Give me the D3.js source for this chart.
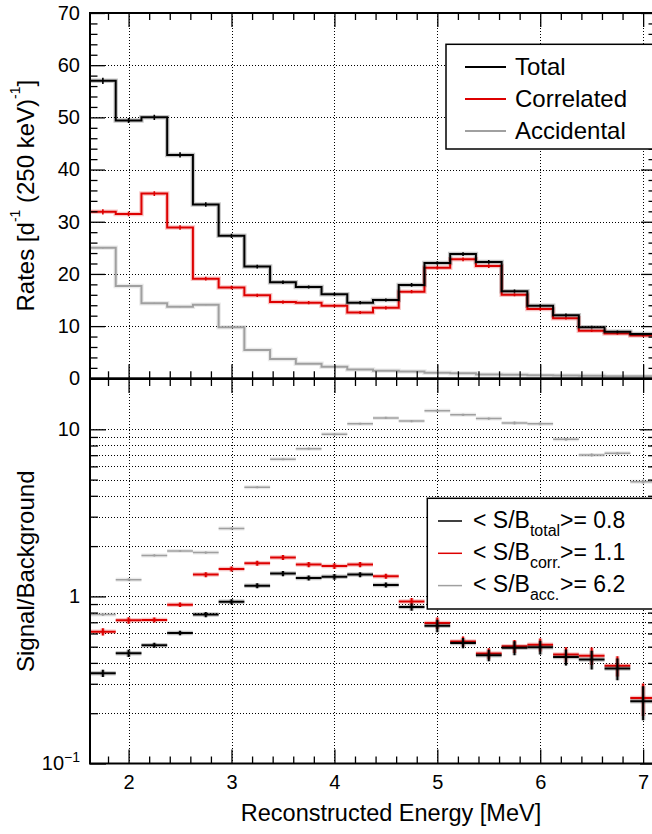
<!DOCTYPE html>
<html><head><meta charset="utf-8">
<script src="https://cdn.jsdelivr.net/npm/d3@7"></script>
<style>body{margin:0;background:#fff} text{font-family:"Liberation Sans",Arial,Helvetica,sans-serif}</style>
</head><body><svg id="c" width="652" height="834"></svg>
<script>
// ---------- data ----------
const binCenters = [1.75,2.0,2.25,2.5,2.75,3.0,3.25,3.5,3.75,4.0,4.25,4.5,4.75,5.0,5.25,5.5,5.75,6.0,6.25,6.5,6.75,7.0];
const binWidth = 0.25;
const total      = [57.0,49.4,50.0,42.8,33.3,27.3,21.4,18.4,17.5,16.1,14.5,15.0,17.9,22.1,23.8,22.3,16.7,13.9,12.1,9.8,8.9,8.5];
const correlated = [31.9,31.5,35.4,28.9,19.1,17.4,15.9,14.6,14.5,13.9,12.6,13.5,16.6,21.2,22.8,21.5,16.0,13.3,11.5,9.1,8.6,8.2];
const accidental = [25.0,17.7,14.4,13.7,14.1,9.8,5.4,3.7,2.8,2.2,1.7,1.45,1.3,1.05,0.95,0.75,0.68,0.57,0.52,0.48,0.40,0.37];
const totalErr   = [0.6,0.5,0.5,0.5,0.45,0.4,0.35,0.35,0.3,0.3,0.3,0.3,0.35,0.35,0.35,0.35,0.3,0.3,0.3,0.25,0.25,0.25];
const corrErr    = [0.5,0.45,0.45,0.45,0.35,0.35,0.3,0.3,0.3,0.3,0.3,0.3,0.3,0.35,0.35,0.35,0.3,0.3,0.25,0.25,0.25,0.25];
const accErr     = [0.15,0.12,0.1,0.1,0.1,0.08,0.06,0.05,0.04,0.04,0.03,0.03,0.03,0.03,0.03,0.03,0.03,0.02,0.02,0.02,0.02,0.02];

const sbTotal = [0.347,0.457,0.510,0.604,0.778,0.930,1.16,1.37,1.29,1.31,1.35,1.17,0.864,0.668,0.526,0.444,0.492,0.496,0.434,0.419,0.370,0.236];
const sbCorr  = [0.615,0.719,0.723,0.892,1.35,1.46,1.58,1.71,1.55,1.52,1.55,1.32,0.933,0.693,0.538,0.455,0.503,0.514,0.449,0.442,0.385,0.247];
const sbAcc   = [0.778,1.26,1.76,1.87,1.83,2.55,4.50,6.62,7.66,9.33,10.8,11.7,11.2,12.9,12.2,11.6,10.9,10.8,8.71,7.02,7.18,4.86];
const sbTotalRelErr = [0.05,0.05,0.035,0.03,0.035,0.035,0.035,0.035,0.035,0.04,0.035,0.035,0.05,0.085,0.07,0.078,0.096,0.096,0.11,0.128,0.15,0.23];
const sbCorrRelErr  = [0.05,0.045,0.035,0.03,0.035,0.035,0.035,0.035,0.035,0.04,0.035,0.035,0.05,0.08,0.07,0.075,0.09,0.09,0.105,0.12,0.14,0.22];
const sbAccRelErr   = [0.02,0.02,0.015,0.015,0.015,0.015,0.015,0.015,0.015,0.015,0.015,0.015,0.015,0.015,0.015,0.015,0.02,0.02,0.02,0.02,0.02,0.025];

const topYTicks = [0,10,20,30,40,50,60,70];
const xTickLabels = [2,3,4,5,6,7];
const logMajor = [0.1,1,10];
const logMinor = [0.2,0.3,0.4,0.5,0.6,0.7,0.8,0.9,2,3,4,5,6,7,8,9];
const legendTop = ["Total","Correlated","Accidental"];
const legendBottom = [["total","0.8"],["corr.","1.1"],["acc.","6.2"]];

// ---------- layout ----------
const BLACK="#000", RED="#dd0000", GRAY="#a0a0a0";
const L=90, R=656, T1=13, B1=378.3, T2=379, B2=763.5;
const svg = d3.select("#c");
svg.append("rect").attr("width",652).attr("height",834).attr("fill","#fff");

const x  = d3.scaleLinear().domain([1.625,7.125]).range([L,R]);
const y1 = d3.scaleLinear().domain([0,70]).range([B1,T1]);
const y2 = d3.scaleLog().domain([0.1,20]).range([B2,T2]);
const px = v => Math.round(v)+0.5;

const defs = svg.append("defs");
defs.append("clipPath").attr("id","cp1").append("rect").attr("x",L).attr("y",T1).attr("width",R-L).attr("height",B1-T1);
defs.append("clipPath").attr("id","cp2").append("rect").attr("x",L).attr("y",T2).attr("width",R-L).attr("height",B2-T2);

const xMinor = d3.range(9,36).filter(i=>i%5!==0).map(i=>i/5);
const topMinor = d3.range(0,71,2).filter(v=>v%10!==0);

// ---------- grids ----------
const gridStyle = g => g.attr("stroke","#000").attr("stroke-width",1).attr("stroke-dasharray","1,2").attr("shape-rendering","crispEdges");
const g1 = svg.append("g").call(gridStyle);
g1.selectAll("line.vx").data(xTickLabels).join("line").attr("class","vx")
  .attr("x1",d=>px(x(d))).attr("x2",d=>px(x(d))).attr("y1",T1).attr("y2",B1);
g1.selectAll("line.hy").data(topYTicks.filter(v=>v>0&&v<70)).join("line").attr("class","hy")
  .attr("x1",L).attr("x2",R).attr("y1",d=>px(y1(d))).attr("y2",d=>px(y1(d)));
const g2 = svg.append("g").call(gridStyle);
g2.selectAll("line.vx").data(xTickLabels).join("line").attr("class","vx")
  .attr("x1",d=>px(x(d))).attr("x2",d=>px(x(d))).attr("y1",T2).attr("y2",B2);
g2.selectAll("line.hy").data(logMajor.concat(logMinor).filter(v=>v>0.1)).join("line").attr("class","hy")
  .attr("x1",L).attr("x2",R).attr("y1",d=>px(y2(d))).attr("y2",d=>px(y2(d)));

// ---------- top panel histograms ----------
const p1 = svg.append("g").attr("clip-path","url(#cp1)");
function stepPath(vals){
  const pts=[];
  vals.forEach((v,i)=>{ pts.push([x(binCenters[i]-binWidth/2), y1(v)]); pts.push([x(binCenters[i]+binWidth/2), y1(v)]); });
  return d3.line()(pts);
}
function hist(vals, errs, color){
  p1.append("path").attr("d",stepPath(vals)).attr("fill","none").attr("stroke",color).attr("stroke-width",4.5).attr("stroke-opacity",0.22);
  p1.append("path").attr("d",stepPath(vals)).attr("fill","none").attr("stroke",color).attr("stroke-width",2);
  p1.selectAll(null).data(vals).join("line")
    .attr("x1",(d,i)=>x(binCenters[i])).attr("x2",(d,i)=>x(binCenters[i]))
    .attr("y1",(d,i)=>y1(d-errs[i])).attr("y2",(d,i)=>y1(d+errs[i]))
    .attr("stroke",color).attr("stroke-width",1.6);
}
hist(accidental, accErr, GRAY);
hist(correlated, corrErr, RED);
hist(total, totalErr, BLACK);

// ---------- bottom panel ratios ----------
const p2 = svg.append("g").attr("clip-path","url(#cp2)");
function ratio(vals, rel, color, w){
  const g = p2.append("g").attr("stroke",color);
  [[w+2.5,0.22],[w,1]].forEach(([sw,op])=>{
    g.selectAll(null).data(vals).join("line")
      .attr("x1",(d,i)=>x(binCenters[i]-binWidth/2)).attr("x2",(d,i)=>x(binCenters[i]+binWidth/2))
      .attr("y1",d=>y2(d)).attr("y2",d=>y2(d)).attr("stroke-width",sw).attr("stroke-opacity",op);
    g.selectAll(null).data(vals).join("line")
      .attr("x1",(d,i)=>x(binCenters[i])).attr("x2",(d,i)=>x(binCenters[i]))
      .attr("y1",(d,i)=>y2(d*(1-rel[i]))).attr("y2",(d,i)=>y2(d*(1+rel[i]))).attr("stroke-width",sw).attr("stroke-opacity",op);
  });
}
ratio(sbAcc, sbAccRelErr, GRAY, 1.5);
ratio(sbCorr, sbCorrRelErr, RED, 2);
ratio(sbTotal, sbTotalRelErr, BLACK, 2);

// ---------- ticks ----------
function ticks(gen, pos, vals, size){
  const g = svg.append("g").attr("transform",pos)
    .call(gen.tickValues(vals).tickSize(size).tickFormat(""));
  g.select(".domain").remove();
  g.selectAll("line").attr("stroke","#000").attr("stroke-width",1.3);
}
// top panel
ticks(d3.axisLeft(y1), `translate(${L},0)`, topYTicks, -15);
ticks(d3.axisLeft(y1), `translate(${L},0)`, topMinor, -7.5);
ticks(d3.axisRight(y1), `translate(${R},0)`, topYTicks, -15);
ticks(d3.axisRight(y1), `translate(${R},0)`, topMinor, -7.5);
ticks(d3.axisTop(x), `translate(0,${T1})`, xTickLabels, -14);
ticks(d3.axisTop(x), `translate(0,${T1})`, xMinor, -7);
ticks(d3.axisBottom(x), `translate(0,${B1})`, xTickLabels, -14);
ticks(d3.axisBottom(x), `translate(0,${B1})`, xMinor, -7);
// bottom panel
ticks(d3.axisLeft(y2), `translate(${L},0)`, logMajor, -16);
ticks(d3.axisLeft(y2), `translate(${L},0)`, logMinor, -8);
ticks(d3.axisRight(y2), `translate(${R},0)`, logMajor, -16);
ticks(d3.axisRight(y2), `translate(${R},0)`, logMinor, -8);
ticks(d3.axisTop(x), `translate(0,${T2})`, xTickLabels, -14);
ticks(d3.axisTop(x), `translate(0,${T2})`, xMinor, -7);
ticks(d3.axisBottom(x), `translate(0,${B2})`, xTickLabels, -14);
ticks(d3.axisBottom(x), `translate(0,${B2})`, xMinor, -7);

// ---------- frames ----------
[[T1,B1],[T2,B2]].forEach(([a,b])=>{
  svg.append("rect").attr("x",L).attr("y",a).attr("width",R-L).attr("height",b-a)
    .attr("fill","none").attr("stroke","#000").attr("stroke-width",2);
});

// ---------- labels ----------
function labels(gen, pos){
  const g = svg.append("g").attr("transform",pos).call(gen);
  g.select(".domain").remove();
  g.selectAll("line").remove();
  g.selectAll("text").attr("font-size",20).attr("fill","#000")
    .style("font-family",'"Liberation Sans",Arial,sans-serif');
  return g;
}
labels(d3.axisLeft(y1).tickValues(topYTicks).tickSize(0).tickPadding(10).tickFormat(d3.format("d")), `translate(${L},0)`);
const ll = labels(d3.axisLeft(y2).tickValues(logMajor).tickSize(0).tickPadding(10).tickFormat(d=>d===0.1?"":d3.format("d")(d)), `translate(${L},0)`);
ll.selectAll("text").filter(d=>d===0.1).each(function(){
  const t=d3.select(this);
  t.append("tspan").text("10");
  t.append("tspan").attr("font-size",14).attr("dy",-8).text("\u22121");
});
labels(d3.axisBottom(x).tickValues(xTickLabels).tickSize(0).tickPadding(11).tickFormat(d3.format("d")), `translate(0,${B2})`);

// axis titles
svg.append("text").attr("x",391).attr("y",821).attr("text-anchor","middle").attr("font-size",23.5)
  .text("Reconstructed Energy [MeV]");
const rt = svg.append("text").attr("transform",`translate(34,${(T1+B1)/2}) rotate(-90)`).attr("text-anchor","middle").attr("font-size",24);
rt.append("tspan").text("Rates [d");
rt.append("tspan").attr("font-size",14).attr("dy",-14).text("-1");
rt.append("tspan").attr("dy",14).text(" (250 keV)");
rt.append("tspan").attr("font-size",14).attr("dy",-14).text("-1");
rt.append("tspan").attr("dy",14).text("]");
svg.append("text").attr("transform",`translate(34,${(T2+B2)/2}) rotate(-90)`).attr("text-anchor","middle").attr("font-size",24)
  .text("Signal/Background");

// ---------- legend top ----------
const lg1 = svg.append("g");
lg1.append("rect").attr("x",446).attr("y",44.3).attr("width",230).attr("height",104.7)
  .attr("fill","#fff").attr("stroke","#000").attr("stroke-width",1.5);
const lcol = [BLACK,RED,GRAY];
legendTop.forEach((name,i)=>{
  const yy = 67 + i*32;
  lg1.append("line").attr("x1",465).attr("x2",506).attr("y1",yy).attr("y2",yy).attr("stroke",lcol[i]).attr("stroke-width",2);
  lg1.append("text").attr("x",515).attr("y",yy+7.5).attr("font-size",24).text(name);
});

// ---------- legend bottom ----------
const lg2 = svg.append("g");
lg2.append("rect").attr("x",427.3).attr("y",498.3).attr("width",240).attr("height",110.7)
  .attr("fill","#fff").attr("stroke","#000").attr("stroke-width",1.5);
legendBottom.forEach(([sub,val],i)=>{
  const yy = 521 + i*32.3;
  lg2.append("line").attr("x1",438).attr("x2",462).attr("y1",yy).attr("y2",yy).attr("stroke",lcol[i]).attr("stroke-width",1.5);
  const t = lg2.append("text").attr("x",473).attr("y",yy+6.8).attr("font-size",23);
  t.append("tspan").text("< S/B");
  t.append("tspan").attr("font-size",16).attr("dy",8).text(sub);
  t.append("tspan").attr("x",560).attr("dy",-8).text(">= "+val);
});
</script></body></html>
